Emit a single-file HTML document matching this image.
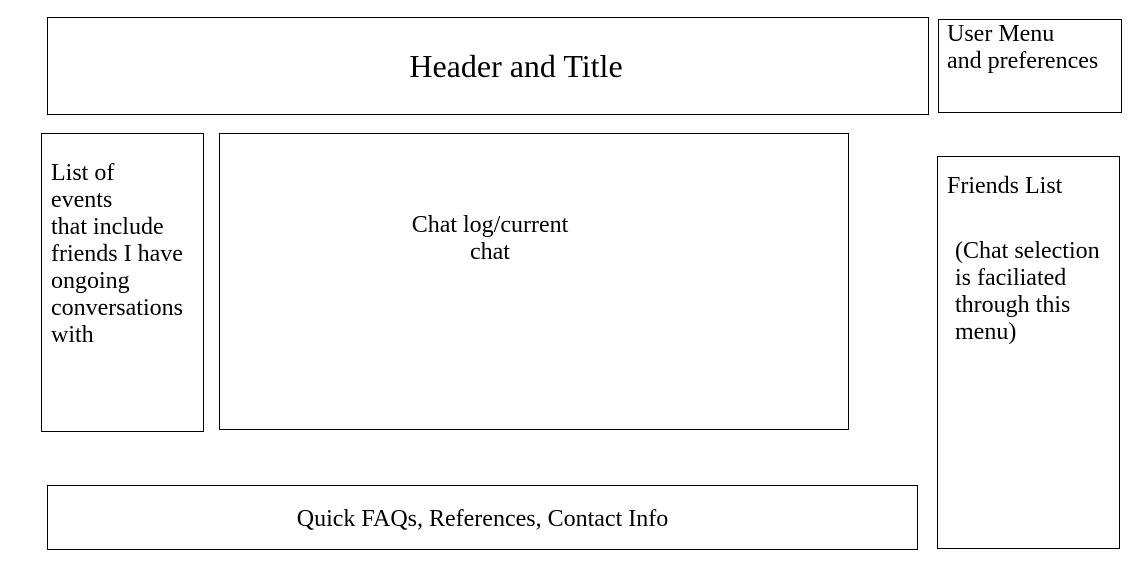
<!DOCTYPE html>
<html><head><meta charset="utf-8"><style>
html,body{margin:0;padding:0;background:#fff;width:1137px;height:571px;overflow:hidden}
body{position:relative;font-family:"Liberation Serif",serif;color:#000}
.b{position:absolute;border:1px solid #000;box-sizing:border-box}
.t{position:absolute;font-size:24px;line-height:27px;white-space:nowrap}
</style></head><body>
<div class="b" style="left:47px;top:17px;width:882px;height:98px"></div>
<div class="t" style="left:316px;top:47px;width:400px;text-align:center;font-size:32px;line-height:38px">Header and Title</div>

<div class="b" style="left:938px;top:19px;width:184px;height:94px"></div>
<div class="t" style="left:947px;top:21px">User Menu<br>and preferences</div>

<div class="b" style="left:41px;top:133px;width:163px;height:299px"></div>
<div class="t" style="left:51px;top:160px">List of<br>events<br>that include<br>friends I have<br>ongoing<br>conversations<br>with</div>

<div class="b" style="left:219px;top:133px;width:630px;height:297px"></div>
<div class="t" style="left:390px;top:212px;width:200px;text-align:center">Chat log/current<br>chat</div>

<div class="b" style="left:937px;top:156px;width:183px;height:393px"></div>
<div class="t" style="left:947px;top:173px">Friends List</div>
<div class="t" style="left:955px;top:238px">(Chat selection<br>is faciliated<br>through this<br>menu)</div>

<div class="b" style="left:47px;top:485px;width:871px;height:65px"></div>
<div class="t" style="left:47px;top:506px;width:871px;text-align:center">Quick FAQs, References, Contact Info</div>
</body></html>
